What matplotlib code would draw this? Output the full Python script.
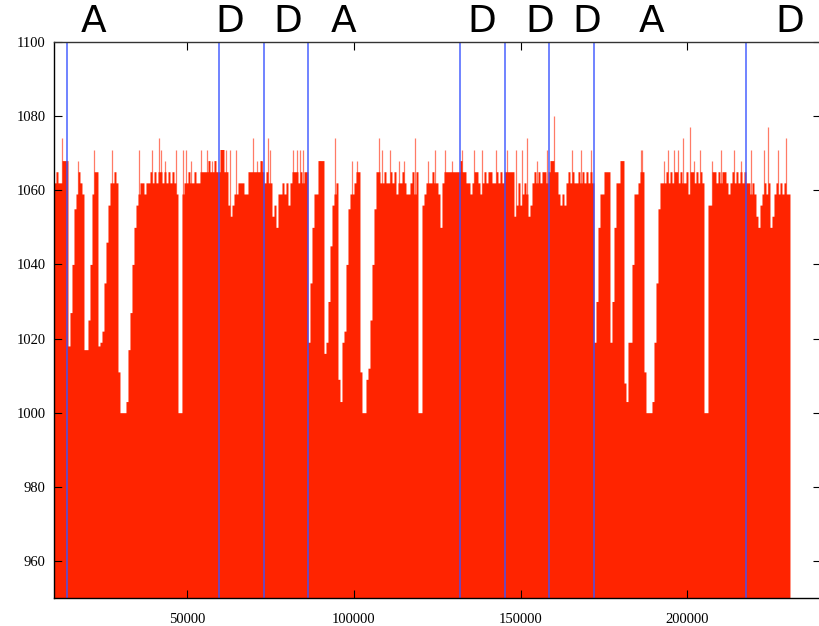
import numpy as np
import matplotlib
matplotlib.use('Agg')
import matplotlib.pyplot as plt
import matplotlib.transforms as mtransforms

# sample spacing of the trace (x units per bar)
step = 600
x_start = 10000

# trace level, one value per sample
values = [
    1062, 1065, 1062, 1062, 1068, 1068, 1068, 1018, 1027, 1040, 1055, 1059, 1065, 1062, 1059, 1017, 1017, 1025, 1040, 1059,
    1065, 1065, 1018, 1019, 1022, 1035, 1046, 1056, 1062, 1062, 1065, 1062, 1011, 1000, 1000, 1000, 1003, 1017, 1027, 1040,
    1050, 1056, 1059, 1062, 1062, 1059, 1062, 1062, 1065, 1062, 1065, 1062, 1065, 1065, 1062, 1065, 1062, 1065, 1062, 1065,
    1062, 1059, 1000, 1000, 1059, 1062, 1062, 1065, 1062, 1062, 1065, 1062, 1062, 1065, 1065, 1065, 1065, 1068, 1065, 1065,
    1068, 1065, 1065, 1071, 1071, 1065, 1065, 1056, 1053, 1056, 1059, 1059, 1062, 1062, 1062, 1059, 1059, 1065, 1065, 1065,
    1065, 1065, 1065, 1068, 1065, 1062, 1065, 1062, 1062, 1053, 1056, 1050, 1059, 1059, 1062, 1059, 1062, 1056, 1062, 1065,
    1065, 1065, 1062, 1065, 1062, 1065, 1065, 1019, 1035, 1050, 1059, 1059, 1068, 1068, 1068, 1016, 1019, 1030, 1045, 1056,
    1059, 1062, 1009, 1003, 1019, 1022, 1040, 1055, 1059, 1059, 1062, 1065, 1065, 1011, 1000, 1000, 1009, 1012, 1025, 1040,
    1055, 1065, 1065, 1062, 1062, 1065, 1062, 1062, 1065, 1062, 1065, 1059, 1062, 1062, 1065, 1062, 1059, 1059, 1062, 1065,
    1059, 1065, 1000, 1000, 1056, 1059, 1062, 1062, 1062, 1065, 1062, 1062, 1059, 1050, 1062, 1065, 1065, 1065, 1065, 1065,
    1065, 1065, 1065, 1068, 1065, 1065, 1062, 1062, 1059, 1062, 1065, 1065, 1062, 1059, 1062, 1065, 1062, 1065, 1065, 1062,
    1062, 1065, 1062, 1065, 1062, 1065, 1065, 1065, 1065, 1065, 1053, 1056, 1062, 1056, 1059, 1062, 1059, 1053, 1056, 1062,
    1065, 1062, 1065, 1062, 1065, 1065, 1062, 1065, 1068, 1068, 1065, 1065, 1059, 1056, 1059, 1056, 1062, 1065, 1062, 1065,
    1062, 1062, 1065, 1062, 1065, 1062, 1065, 1062, 1065, 1062, 1019, 1030, 1050, 1059, 1059, 1065, 1065, 1065, 1019, 1030,
    1050, 1062, 1062, 1068, 1068, 1008, 1003, 1019, 1019, 1040, 1059, 1059, 1062, 1065, 1065, 1011, 1000, 1000, 1000, 1003,
    1019, 1035, 1055, 1062, 1062, 1062, 1065, 1062, 1065, 1062, 1065, 1065, 1062, 1065, 1062, 1062, 1065, 1059, 1065, 1065,
    1062, 1065, 1062, 1065, 1062, 1000, 1000, 1056, 1056, 1065, 1065, 1062, 1065, 1062, 1065, 1065, 1062, 1059, 1062, 1065,
    1062, 1065, 1062, 1065, 1062, 1065, 1062, 1062, 1059, 1062, 1059, 1053, 1050, 1056, 1059, 1062, 1059, 1062, 1050, 1053,
    1059, 1062, 1059, 1062, 1059, 1062, 1059, 1059,
]

# isolated thin peaks above the trace
spike_x = [12520, 17230, 21940, 27520, 35530, 39430, 41530, 42220, 43240, 46540,
           48730, 49720, 51220, 54220, 55840, 57340, 61630, 62830, 64630, 69820,
           70840, 72340, 74140, 74830, 81820, 82840, 83830, 84820, 89830, 94330,
           99430, 100930, 107620, 108430, 110920, 113440, 114940, 118240, 122230, 124420,
           127420, 129430, 132430, 135940, 138430, 142540, 145840, 148540, 150520, 152020,
           155020, 157840, 160030, 165520, 168040, 171040, 186040, 186430, 193120, 194140,
           196120, 197320, 198640, 200830, 202120, 203920, 207340, 210130, 214120, 216130,
           219130, 223120, 224320, 227140, 229630]
spike_y = [1074, 1068, 1071, 1071, 1071, 1071, 1074, 1071, 1068, 1071,
           1071, 1071, 1068, 1071, 1071, 1068, 1071, 1071, 1071, 1074,
           1068, 1068, 1074, 1071, 1071, 1071, 1071, 1071, 1068, 1074,
           1068, 1068, 1074, 1071, 1071, 1068, 1068, 1074, 1068, 1071,
           1071, 1068, 1071, 1071, 1071, 1071, 1071, 1071, 1071, 1074,
           1068, 1071, 1080, 1071, 1071, 1071, 1071, 1071, 1068, 1071,
           1071, 1071, 1074, 1077, 1068, 1071, 1068, 1071, 1071, 1068,
           1071, 1071, 1077, 1071, 1074]

# event markers
event_x = [14020, 59530, 72940, 86230, 131920, 145240, 158530, 171940, 217540]
label_x = [21730, 62830, 80230, 96730, 138340, 155830, 169840, 189370, 230830]
label_txt = ['A', 'D', 'D', 'A', 'D', 'D', 'D', 'A', 'D']

red = '#ff2400'
blue = '#3a55ff'

fig = plt.figure(figsize=(8.19, 6.26), dpi=100)
ax = fig.add_axes([0.0659, 0.0447, 0.9361, 0.8882])

xs = x_start + step * np.arange(len(values))
ax.fill_between(np.append(xs, xs[-1] + step), np.append(values, values[-1]), 950,
                step='post', color=red, lw=0)
ax.vlines(spike_x, 950, spike_y, color=red, lw=0.9, alpha=0.6)

for xv in event_x:
    ax.axvline(xv, color=blue, lw=1.2, alpha=0.85)

trans = mtransforms.blended_transform_factory(ax.transData, ax.transAxes)
for xv, t in zip(label_x, label_txt):
    ax.text(xv, 1.036, t, transform=trans, ha='center', va='center',
            fontsize=27, family='DejaVu Sans', clip_on=False)

ax.set_xlim(10000, 240000)
ax.set_ylim(950, 1100)
ax.set_xticks([50000, 100000, 150000, 200000])
ax.set_yticks(np.arange(960, 1101, 20))
ax.tick_params(direction='in', top=True, right=True, length=6, width=0.8)
ax.tick_params(axis='x', pad=11)
ax.tick_params(axis='y', pad=6)
for lab in ax.get_xticklabels() + ax.get_yticklabels():
    lab.set_family('Liberation Serif')
    lab.set_fontsize(10.5)
for s in ax.spines.values():
    s.set_linewidth(1.0)
ax.spines['top'].set_color('#333333')

plt.savefig('out.png', dpi=100)
